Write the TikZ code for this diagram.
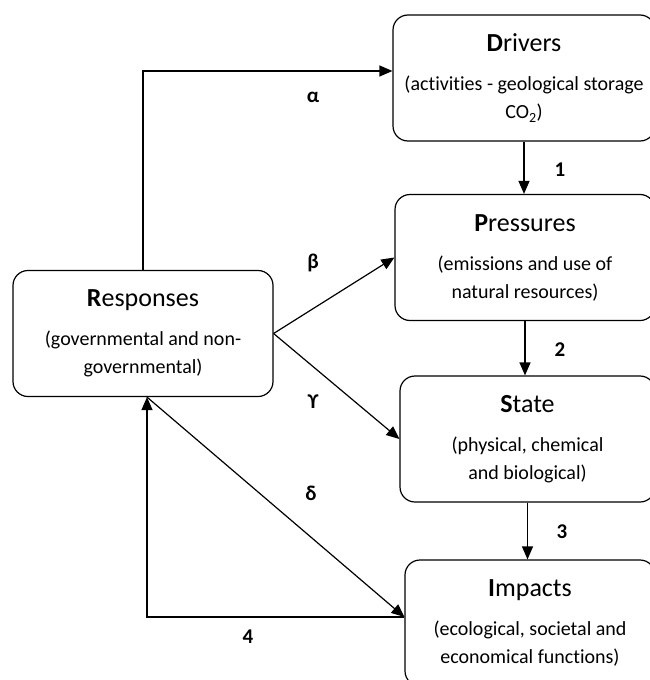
\documentclass[tikz,border=0pt]{standalone}
\usepackage{fontspec}
\setmainfont{Carlito}[Ligatures=NoCommon]
\usetikzlibrary{arrows.meta, positioning}

\newcommand{\titlefont}{\fontsize{26}{30}\selectfont}
\newcommand{\subfont}{\fontsize{20}{28}\selectfont}

\begin{document}
\begin{tikzpicture}[
  x=1pt, y=-1pt,
  stage/.style={draw, rounded corners=15pt, line width=1.2pt, align=center, inner sep=0pt, minimum height=126pt, font=\subfont},
  lbl/.style={font=\fontsize{21}{25}\selectfont\bfseries},
  arr/.style={line width=1.2pt, -{Triangle[length=13pt, width=11pt]}}
]
  \useasboundingbox (0,0) rectangle (650,680);

  % DPSIR boxes
  \node[stage, minimum width=262pt] (drv) at (524,78)    {{\titlefont\textbf{D}rivers}\\[11pt](activities - geological storage\\CO\textsubscript{2})};
  \node[stage, minimum width=260pt] (prs) at (525,257.5) {{\titlefont\textbf{P}ressures}\\[11pt](emissions and use of\\natural resources)};
  \node[stage, minimum width=255pt] (sta) at (527.5,439) {{\titlefont\textbf{S}tate}\\[11pt](physical, chemical\\and biological)};
  \node[stage, minimum width=250pt] (imp) at (530,623)   {{\titlefont\textbf{I}mpacts}\\[11pt](ecological, societal and\\economical functions)};
  \node[stage, minimum width=260pt] (rsp) at (143,333.5) {{\titlefont\textbf{R}esponses}\\[11pt](governmental and non-\\governmental)};

  \coordinate (crn) at (147,617);
  \coordinate (imw) at ([yshift=6pt]imp.west);

  % chain
  \draw[arr] (drv.south) -- (drv.south |- prs.north);
  \draw[arr] (prs.south) -- (prs.south |- sta.north);
  \draw[arr] (sta.south) -- (sta.south |- imp.north);

  % responses
  \draw[arr] (rsp.north) |- ([yshift=7pt]drv.west);
  \draw[arr] (rsp.east) -- (prs.west);
  \draw[arr] (rsp.east) -- (sta.west);
  \draw[arr] (crn |- rsp.south) -- (imw);
  \draw[arr] (imw) -- (crn) -- (crn |- rsp.south);

  % labels
  \node[lbl] (la) at (313,97)  {α};
  \node[lbl] (lb) at (313,263) {β};
  \node[lbl] (lg) at (313,402) {ϒ};
  \node[lbl] (ld) at (311,493) {δ};
  \node[lbl] (l1) at (560,170) {1};
  \node[lbl] (l2) at (560,350) {2};
  \node[lbl] (l3) at (562,532) {3};
  \node[lbl] (l4) at (248,637) {4};
\end{tikzpicture}
\end{document}
